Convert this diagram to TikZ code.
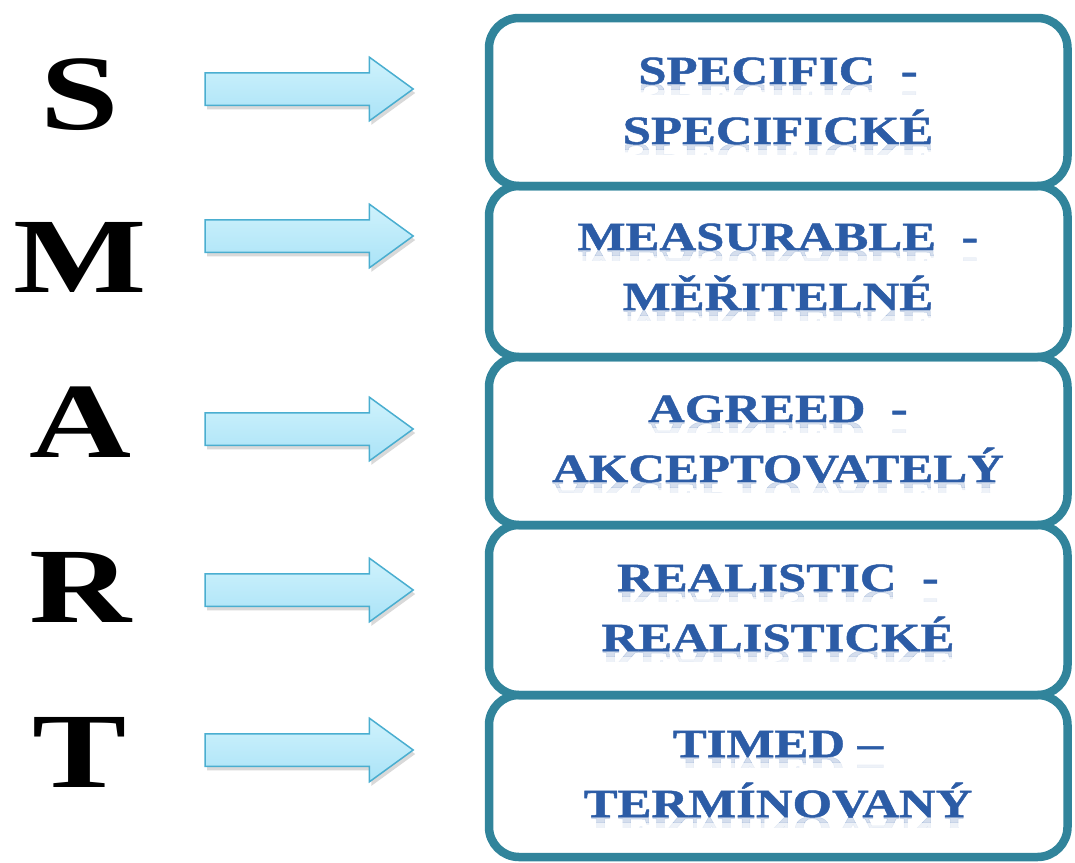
\documentclass[tikz,border=0pt]{standalone}
\usepackage{fontspec}
\usepackage{graphicx}
\newfontfamily\wideserif[FakeStretch=1.32]{Liberation Serif}
\newfontfamily\goalserif[FakeStretch=1.27,FakeBold=1.2]{Liberation Serif}
\usetikzlibrary{shapes.arrows,shadows}

\definecolor{frame}{HTML}{31849B}
\definecolor{ink}{HTML}{2C5CA6}
\definecolor{arrowtop}{HTML}{CFF2FC}
\definecolor{arrowbot}{HTML}{AAE3F7}
\definecolor{arrowedge}{HTML}{4AAED0}

% one line of box text with a faint mirrored copy fading out below its baseline
\newcommand{\goalline}[3]{%
  \node[goal] (#2) at (#1) {#3};
  \begin{scope}
    \clip ([xshift=-320pt]#2.base) rectangle ([xshift=320pt,yshift=-5pt]#2.base);
    \node[goal, opacity=0.2] at (#2.base) {\scalebox{1}[-1]{#3}};
  \end{scope}
  \begin{scope}
    \clip ([xshift=-320pt,yshift=-5pt]#2.base) rectangle ([xshift=320pt,yshift=-10pt]#2.base);
    \node[goal, opacity=0.08] at (#2.base) {\scalebox{1}[-1]{#3}};
  \end{scope}}

\begin{document}
\begin{tikzpicture}[x=1pt,y=-1pt,
  letter/.style={font=\wideserif\bfseries\fontsize{107}{107}\selectfont,
                 inner sep=0pt, anchor=base},
  goal/.style={font=\goalserif\bfseries\fontsize{40}{40}\selectfont,
               text=ink, inner sep=0pt, anchor=base},
  pointer/.style={single arrow, draw=arrowedge, line width=1.5pt,
                  top color=arrowtop, bottom color=arrowbot,
                  minimum height=208pt, inner xsep=0pt, inner ysep=15.5pt,
                  single arrow head extend=15.5pt, single arrow tip angle=72,
                  drop shadow={shadow xshift=2pt, shadow yshift=-4pt,
                               opacity=0.25, fill=black!60}},
  goalbox/.style={draw=frame, line width=8.5pt, rounded corners=30pt,
                  minimum width=578.5pt, inner sep=0pt}]

\useasboundingbox (0,0) rectangle (1075,862);

% the five goal boxes, stacked so that neighbouring frames share an edge
\node[goalbox, minimum height=168pt] (b1) at (778.25,102)   {};
\node[goalbox, minimum height=171pt] (b2) at (778.25,271.5) {};
\node[goalbox, minimum height=168pt] (b3) at (778.25,441)   {};
\node[goalbox, minimum height=170pt] (b4) at (778.25,610)   {};
\node[goalbox, minimum height=162pt] (b5) at (778.25,776)   {};

% the acronym letters
\node[letter] (S) at (80,129) {S};
\node[letter] (M) at (80,292) {M};
\node[letter] (A) at (80,457) {A};
\node[letter] (R) at (80,622) {R};
\node[letter] (T) at (80,787) {T};

% block arrows from each letter to its box
\node[pointer] (p1) at (298,89)  {};
\node[pointer] (p2) at (298,236) {};
\node[pointer] (p3) at (298,429) {};
\node[pointer] (p4) at (298,590) {};
\node[pointer] (p5) at (298,750) {};

% box texts
\goalline{778,84}{g1a}{SPECIFIC \ -}
\goalline{778,144}{g1b}{SPECIFICKÉ}
\goalline{778,250}{g2a}{MEASURABLE \ -}
\goalline{778,310}{g2b}{MĚŘITELNÉ}
\goalline{778,422}{g3a}{AGREED \ -}
\goalline{778,482}{g3b}{AKCEPTOVATELÝ}
\goalline{778,591}{g4a}{REALISTIC \ -}
\goalline{778,651}{g4b}{REALISTICKÉ}
\goalline{778,757}{g5a}{TIMED –}
\goalline{778,817}{g5b}{TERMÍNOVANÝ}

\end{tikzpicture}
\end{document}
